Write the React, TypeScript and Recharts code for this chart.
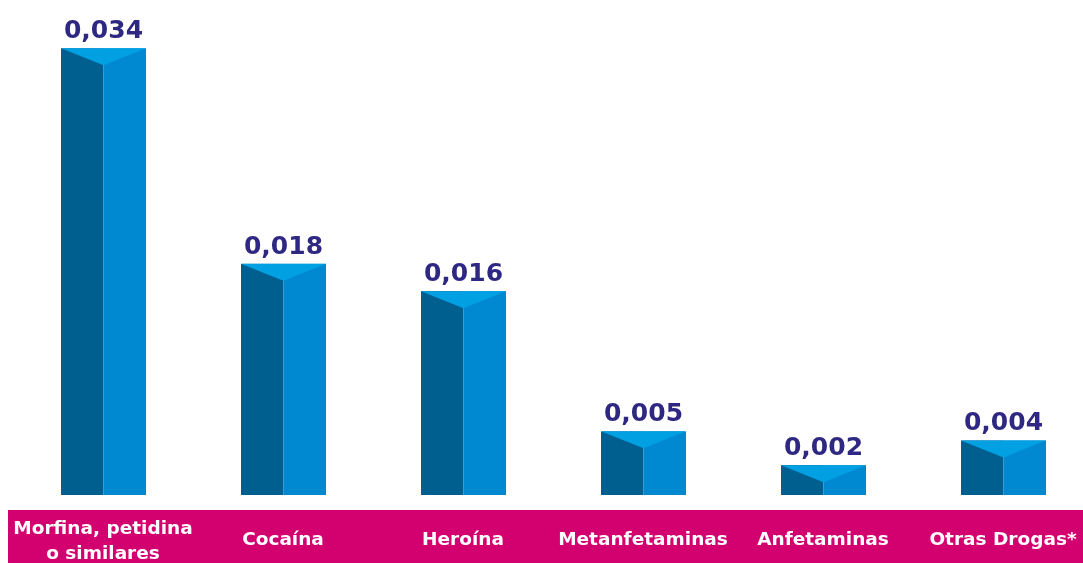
import { BarChart, Bar, XAxis, YAxis, LabelList } from 'recharts';

const categories = [
  'Morfina, petidina\no similares',
  'Cocaína',
  'Heroína',
  'Metanfetaminas',
  'Anfetaminas',
  'Otras Drogas*',
];

// labels show them rounded to 3 decimals
const values = [0.0344, 0.0178, 0.0157, 0.0049, 0.0023, 0.0042];

const COLORS = {
  dark: '#005f8f',
  light: '#0089d0',
  top: '#00a0e3',
  label: '#2f2882',
  band: '#d3006f',
};

const data = categories.map((name, i) => ({ name, value: values[i] }));

const fmt = (v: number) => v.toFixed(3).replace('.', ',');

const Bar3D = (props: any) => {
  const { x, y, width, height } = props;
  if (!height || height <= 0) return null;
  const mid = x + width / 2;
  const depth = Math.min(17, height);
  return (
    <g>
      <rect x={x} y={y} width={width / 2} height={height} fill={COLORS.dark} />
      <rect x={mid} y={y} width={width / 2} height={height} fill={COLORS.light} />
      <polygon points={`${x},${y} ${x + width},${y} ${mid},${y + depth}`} fill={COLORS.top} />
    </g>
  );
};

const ValueLabel = (props: any) => {
  const { x, y, width, value } = props;
  return (
    <text
      x={x + width / 2}
      y={y - 10}
      textAnchor="middle"
      fill={COLORS.label}
      fontSize={25}
      fontWeight="bold"
      fontFamily="DejaVu Sans"
    >
      {fmt(value)}
    </text>
  );
};

const CategoryTick = (props: any) => {
  const { x, payload } = props;
  const lines = String(payload.value).split('\n');
  const base = lines.length > 1 ? 534 : 545;
  return (
    <text textAnchor="middle" fill="#ffffff" fontSize={18.5} fontWeight="bold" fontFamily="DejaVu Sans">
      {lines.map((line, i) => (
        <tspan key={i} x={x} y={base - 8 + i * 25}>
          {line}
        </tspan>
      ))}
    </text>
  );
};

export default function App() {
  return (
    <div
      style={{
        position: 'fixed',
        left: 8,
        top: 8,
        width: 1075,
        height: 555,
        overflow: 'hidden',
        fontFamily: 'DejaVu Sans',
      }}
    >
      <div
        style={{ position: 'absolute', left: 0, top: 502, width: 1075, height: 53, background: COLORS.band }}
      />
      <BarChart
        width={1090}
        height={555}
        data={data}
        margin={{ top: 39, right: 5, bottom: 0, left: 5 }}
        barCategoryGap={0}
      >
        <XAxis
          dataKey="name"
          axisLine={false}
          tickLine={false}
          height={68}
          interval={0}
          tick={<CategoryTick />}
        />
        <YAxis hide domain={[0, 0.0345]} allowDataOverflow />
        <Bar dataKey="value" barSize={85} shape={<Bar3D />} isAnimationActive={false}>
          <LabelList dataKey="value" content={<ValueLabel />} />
        </Bar>
      </BarChart>
    </div>
  );
}
